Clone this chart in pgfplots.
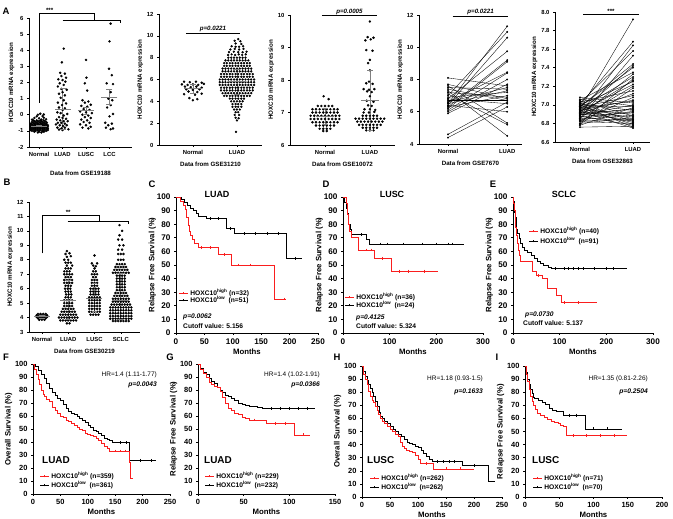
\documentclass[border=0pt]{standalone}
\usepackage{fontspec}
\setmainfont{Liberation Sans}
\usepackage{pgfplots}
\pgfplotsset{compat=1.18}
\definecolor{kmred}{RGB}{250,30,30}
\newcommand\fTick{\fontsize{5.9}{6.5}\selectfont\bfseries}
\newcommand\fLab{\fontsize{6.2}{7}\selectfont\bfseries}
\newcommand\kTick{\fontsize{7.5}{8}\selectfont\bfseries}
\newcommand\kTickC{\fontsize{8.2}{9}\selectfont\bfseries}
\newcommand\kLab{\fontsize{7.8}{8.5}\selectfont\bfseries}
\newcommand\kTxt{\fontsize{6.7}{7.5}\selectfont\bfseries}
\pgfplotsset{
 base/.style={scale only axis, clip=false, axis lines*=left,
   axis line style={line width=0.7pt}, tick align=outside, major tick length=2pt,
   tick style={line width=0.6pt,black}, /pgf/number format/assume math mode=true,
   scaled ticks=false},
 dotax/.style={base, ticklabel style={font=\fTick}, label style={font=\fLab},
   ylabel={HOXC10 mRNA expression}, ylabel style={yshift=-3bp}},
 km/.style={base, ymin=0, ymax=100, ytick={0,10,...,100}, ticklabel style={font=\kTick},
   label style={font=\kLab}, xlabel={Months}, ylabel style={yshift=-4bp}, xlabel style={yshift=2.5bp}},
 kmC/.style={km, ticklabel style={font=\kTickC}, ylabel style={yshift=-2bp}},
 dt/.style={only marks, mark=*, mark size=1.05pt, black, forget plot},
 kr/.style={kmred, const plot, line width=0.65pt, forget plot},
 kb/.style={black, const plot, line width=0.55pt, forget plot},
 cr/.style={kmred, only marks, mark=|, mark size=1.4pt, mark options={line width=0.4pt}, forget plot},
 cb/.style={black, only marks, mark=|, mark size=1.4pt, mark options={line width=0.4pt}, forget plot},
 pl/.style={black, line width=0.35pt, mark=*, mark size=0.75pt, forget plot},
}
\newcommand\msd[5]{%
 \addplot[forget plot, black!50, line width=0.7pt, mark=-, mark size=3pt] coordinates {(#1,#3)(#1,#4)};
 \addplot[forget plot, black!50, line width=0.9pt, only marks, mark=-, mark size=#5] coordinates {(#1,#2)};}
\newcommand\pr[2]{\addplot[pl] coordinates {(0,#1)(1,#2)};}
\newcommand\leg[4]{%
 \draw[#3, line width=0.6pt] (#1bp,#2bp) -- ++(9bp,0) node[anchor=west, black, inner sep=0, xshift=2bp, font=\kTxt]{#4};
 \draw[#3, line width=0.4pt] (#1bp,#2bp) ++(4.5bp,-1.4bp) -- ++(0,2.8bp);}
\newcommand\plet[3]{\node[font=\fontsize{9.5}{10}\selectfont\bfseries] at (#1bp,#2bp) {#3};}
\begin{document}
\begin{tikzpicture}
\useasboundingbox (0,0) rectangle (673bp,519bp);
% ---------------- A1
\begin{axis}[dotax, at={(29bp,372bp)}, width=103bp, height=129bp, xmin=-0.43, xmax=3.96, ymin=-2, ymax=6,
  ytick={-2,...,6}, xtick={0,1,2,3}, xticklabels={Normal,LUAD,LUSC,LCC}, xlabel={Data from GSE19188},
  xlabel style={yshift=-7bp}]
\addplot[dt] coordinates {(-0.05,-1.1)(0.1,-1.1)(-0.2,-1.05)(0,-1.05)(0.2,-1.05)
(-0.3,-1)(-0.15,-1)(0,-1)(0.15,-1)(0.3,-1)
(-0.37,-0.95)(-0.22,-0.95)(-0.07,-0.95)(0.07,-0.95)(0.22,-0.95)(0.37,-0.95)
(-0.3,-0.9)(-0.15,-0.9)(0,-0.9)(0.15,-0.9)(0.3,-0.9)
(-0.37,-0.85)(-0.22,-0.85)(-0.07,-0.85)(0.07,-0.85)(0.22,-0.85)(0.37,-0.85)
(-0.3,-0.8)(-0.15,-0.8)(0,-0.8)(0.15,-0.8)(0.3,-0.8)
(-0.37,-0.75)(-0.22,-0.75)(-0.07,-0.75)(0.07,-0.75)(0.22,-0.75)(0.37,-0.75)
(-0.3,-0.7)(-0.15,-0.7)(0,-0.7)(0.15,-0.7)(0.3,-0.7)
(-0.37,-0.65)(-0.22,-0.65)(-0.07,-0.65)(0.07,-0.65)(0.22,-0.65)(0.37,-0.65)
(-0.3,-0.6)(-0.15,-0.6)(0,-0.6)(0.15,-0.6)(0.3,-0.6)
(-0.35,-0.55)(-0.2,-0.55)(-0.05,-0.55)(0.1,-0.55)(0.25,-0.55)
(-0.25,-0.5)(-0.1,-0.5)(0.05,-0.5)(0.2,-0.5)(0.33,-0.5)
(-0.3,-0.45)(-0.15,-0.45)(0,-0.45)(0.15,-0.45)(0.3,-0.45)
(-0.2,-0.4)(-0.05,-0.4)(0.1,-0.4)(0.25,-0.4)
(-0.25,-0.35)(-0.1,-0.35)(0.05,-0.35)(0.2,-0.35)
(-0.3,-0.3)(0.1,-0.3)(0.3,-0.28)(-0.2,-0.2)(0,-0.22)(0.2,-0.18)
(-0.1,-0.1)(0.15,-0.08)(-0.05,0)(0.2,0.02)(0.05,0.06)};
\addplot[dt] coordinates {(1.05,4.1)(0.97,3.25)(0.9,2.6)(1.1,2.55)(0.95,2.4)(1.15,2.3)(0.82,2.2)(1.0,2.15)(1.12,2.05)(0.88,1.95)(1.05,1.85)(0.8,1.75)(0.95,1.6)(1.18,1.55)(1.0,1.4)(0.85,1.3)(1.1,1.2)(0.92,1.05)(1.05,0.9)(0.8,0.75)(1.15,0.7)(0.98,0.6)(0.85,0.45)(1.1,0.4)(1.0,0.3)(0.78,0.15)(0.92,0.1)(1.2,0.05)(1.05,-0.05)(0.85,-0.15)(1.0,-0.2)(1.15,-0.25)(0.75,-0.3)(0.9,-0.35)(1.05,-0.4)(1.22,-0.4)(0.8,-0.5)(0.95,-0.5)(1.1,-0.55)(0.72,-0.6)(0.88,-0.65)(1.02,-0.7)(1.18,-0.65)(0.78,-0.8)(0.95,-0.85)(1.1,-0.8)(1.25,-0.9)(0.85,-0.92)(1.0,-0.95)};
\addplot[dt] coordinates {(2.0,3.4)(2.02,2.3)(1.95,1.95)(2.05,1.5)(1.85,0.9)(2.1,0.82)(1.95,0.75)(2.2,0.62)(1.8,0.55)(2.05,0.5)(1.9,0.35)(2.15,0.3)(1.75,0.2)(2.0,0.15)(2.25,0.1)(1.85,0.0)(2.1,-0.05)(1.95,-0.15)(2.2,-0.2)(1.8,-0.3)(2.05,-0.35)(1.9,-0.45)(2.15,-0.5)(1.75,-0.6)(2.0,-0.65)(2.2,-0.75)(1.85,-0.8)(2.1,-0.85)};
\addplot[dt] coordinates {(3.05,5.65)(3.0,4.55)(2.98,2.85)(3.1,2.45)(2.88,1.95)(3.15,1.9)(3.05,1.4)(2.95,1.0)(3.12,0.9)(3.05,0.6)(2.9,0.45)(3.15,0.05)(3.0,-0.1)(2.82,-0.5)(3.1,-0.55)(2.95,-0.65)(2.85,-0.8)(3.15,-0.85)(3.05,-0.9)};
\msd{0}{-0.7}{-0.75}{-0.65}{8bp}
\msd{1}{0.35}{-0.92}{1.62}{8bp}
\msd{2}{0.25}{0.05}{0.45}{8bp}
\msd{3}{1.1}{0.65}{1.55}{8bp}
\draw[line width=0.7pt] (axis cs:0,0.75) -- (axis cs:0,6.29) -- (axis cs:2.35,6.29) -- (axis cs:2.35,5.88);
\draw[line width=0.7pt] (axis cs:1,5.88) -- (axis cs:3.45,5.88) -- (axis cs:3.45,5.72);
\node[font=\fLab, anchor=south, inner sep=0.5bp] at (axis cs:0.45,6.3) {***};
\end{axis}
% ---------------- A2
\begin{axis}[dotax, at={(159bp,374bp)}, width=103bp, height=131bp, xmin=-0.77, xmax=1.57, ymin=0, ymax=12,
  ytick={0,2,...,12}, xtick={0,1}, xticklabels={Normal,LUAD}, xlabel={Data from GSE31210}]
\addplot[dt] coordinates {(-0.2,5.8)(-0.07,5.75)(0.07,5.8)(0.2,5.7)(-0.25,5.55)(-0.12,5.5)(0.0,5.55)(0.12,5.5)(0.25,5.6)(-0.18,5.35)(-0.05,5.3)(0.08,5.35)(0.2,5.25)(-0.15,5.1)(0.0,5.05)(0.15,5.1)(-0.1,4.9)(0.1,4.85)(-0.2,4.65)(0.05,4.6)(0.2,4.7)(-0.08,4.3)(0.1,4.2)(0.0,4.1)};
\addplot[dt, mark size=0.95pt] coordinates {(1.03,9.7)(0.95,9.55)(1.08,9.5)(0.97,9.3)(1.1,9.25)
(0.88,9.05)(0.97,9.0)(1.05,9.0)(1.14,9.05)(0.85,8.75)(0.95,8.8)(1.05,8.75)(1.15,8.8)
(0.82,8.5)(0.93,8.55)(1.03,8.5)(1.13,8.5)(1.22,8.55)(0.8,8.25)(0.88,8.3)(0.96,8.25)(1.04,8.3)(1.12,8.25)(1.2,8.3)
(0.805,8)(0.87,8)(0.935,8)(1,8)(1.065,8)(1.13,8)(1.195,8)
(0.74,7.75)(0.805,7.75)(0.87,7.75)(0.935,7.75)(1,7.75)(1.065,7.75)(1.13,7.75)(1.195,7.75)(1.26,7.75)
(0.71,7.5)(0.77,7.5)(0.84,7.5)(0.9,7.5)(0.97,7.5)(1.03,7.5)(1.1,7.5)(1.16,7.5)(1.23,7.5)(1.29,7.5)
(0.71,7.25)(0.77,7.25)(0.84,7.25)(0.9,7.25)(0.97,7.25)(1.03,7.25)(1.1,7.25)(1.16,7.25)(1.23,7.25)(1.29,7.25)
(0.675,7)(0.74,7)(0.805,7)(0.87,7)(0.935,7)(1,7)(1.065,7)(1.13,7)(1.195,7)(1.26,7)(1.325,7)
(0.675,6.75)(0.74,6.75)(0.805,6.75)(0.87,6.75)(0.935,6.75)(1,6.75)(1.065,6.75)(1.13,6.75)(1.195,6.75)(1.26,6.75)(1.325,6.75)
(0.64,6.5)(0.71,6.5)(0.77,6.5)(0.84,6.5)(0.9,6.5)(0.97,6.5)(1.03,6.5)(1.1,6.5)(1.16,6.5)(1.23,6.5)(1.29,6.5)(1.36,6.5)
(0.64,6.25)(0.71,6.25)(0.77,6.25)(0.84,6.25)(0.9,6.25)(0.97,6.25)(1.03,6.25)(1.1,6.25)(1.16,6.25)(1.23,6.25)(1.29,6.25)(1.36,6.25)
(0.61,6)(0.675,6)(0.74,6)(0.805,6)(0.87,6)(0.935,6)(1,6)(1.065,6)(1.13,6)(1.195,6)(1.26,6)(1.325,6)(1.39,6)
(0.61,5.75)(0.675,5.75)(0.74,5.75)(0.805,5.75)(0.87,5.75)(0.935,5.75)(1,5.75)(1.065,5.75)(1.13,5.75)(1.195,5.75)(1.26,5.75)(1.325,5.75)(1.39,5.75)
(0.61,5.5)(0.675,5.5)(0.74,5.5)(0.805,5.5)(0.87,5.5)(0.935,5.5)(1,5.5)(1.065,5.5)(1.13,5.5)(1.195,5.5)(1.26,5.5)(1.325,5.5)(1.39,5.5)
(0.64,5.25)(0.71,5.25)(0.77,5.25)(0.84,5.25)(0.9,5.25)(0.97,5.25)(1.03,5.25)(1.1,5.25)(1.16,5.25)(1.23,5.25)(1.29,5.25)(1.36,5.25)
(0.64,5)(0.71,5)(0.77,5)(0.84,5)(0.9,5)(0.97,5)(1.03,5)(1.1,5)(1.16,5)(1.23,5)(1.29,5)(1.36,5)
(0.675,4.75)(0.74,4.75)(0.805,4.75)(0.87,4.75)(0.935,4.75)(1,4.75)(1.065,4.75)(1.13,4.75)(1.195,4.75)(1.26,4.75)(1.325,4.75)
(0.71,4.5)(0.77,4.5)(0.84,4.5)(0.9,4.5)(0.97,4.5)(1.03,4.5)(1.1,4.5)(1.16,4.5)(1.23,4.5)(1.29,4.5)
(0.84,4.25)(0.9,4.25)(0.97,4.25)(1.03,4.25)(1.1,4.25)(1.16,4.25)
(0.87,4)(0.935,4)(1,4)(1.065,4)(1.13,4)(0.9,3.75)(0.97,3.75)(1.03,3.75)(1.1,3.75)
(0.9,3.5)(0.97,3.5)(1.03,3.5)(1.1,3.5)(0.935,3.25)(1,3.25)(1.065,3.25)
(0.97,3)(1.03,3)(0.95,2.75)(1.05,2.75)(0.97,2.5)(1.04,2.45)(1.0,2.25)(0.98,1.2)};
\msd{0}{5.2}{4.75}{5.6}{9bp}
\msd{1}{5.8}{4.6}{6.95}{9bp}
\draw[line width=0.7pt] (axis cs:-0.16,10.25) -- (axis cs:1.07,10.25) node[midway, above, inner sep=1bp, font=\fLab\itshape] {p=0.0221};
\end{axis}
% ---------------- A3
\begin{axis}[dotax, at={(290bp,374bp)}, width=105bp, height=130bp, xmin=-0.78, xmax=1.56, ymin=6, ymax=10,
  ytick={6,...,10}, xtick={0,1}, xticklabels={Normal,LUAD}, xlabel={Data from GSE10072}]
\addplot[dt] coordinates {(-0.03,7.5)(0.08,7.41)
(-0.16,7.2)(-0.08,7.2)(0,7.2)(0.08,7.2)(0.16,7.2)
(-0.28,7.1)(-0.2,7.1)(-0.12,7.1)(-0.04,7.1)(0.04,7.1)(0.12,7.1)(0.2,7.1)(0.28,7.1)
(-0.28,7.0)(-0.2,7.0)(-0.12,7.0)(-0.04,7.0)(0.04,7.0)(0.12,7.0)(0.2,7.0)(0.28,7.0)
(-0.32,6.9)(-0.24,6.9)(-0.16,6.9)(-0.08,6.9)(0,6.9)(0.08,6.9)(0.16,6.9)(0.24,6.9)(0.32,6.9)
(-0.32,6.8)(-0.24,6.8)(-0.16,6.8)(-0.08,6.8)(0,6.8)(0.08,6.8)(0.16,6.8)(0.24,6.8)(0.32,6.8)
(-0.28,6.7)(-0.2,6.7)(-0.12,6.7)(-0.04,6.7)(0.04,6.7)(0.12,6.7)(0.2,6.7)(0.28,6.7)
(-0.2,6.6)(-0.12,6.6)(-0.04,6.6)(0.04,6.6)(0.12,6.6)(0.2,6.6)
(-0.12,6.5)(-0.04,6.5)(0.04,6.5)(0.12,6.5)(-0.04,6.43)(0.04,6.43)};
\addplot[dt] coordinates {(1.0,9.8)(0.95,9.32)(1.08,9.3)(0.9,9.22)(1.02,9.25)(0.92,8.92)(1.06,8.9)(1.0,8.62)(0.96,8.52)(1.0,8.3)(0.98,7.95)(0.92,7.9)(1.06,7.88)(0.86,7.72)(0.98,7.7)(1.1,7.72)(0.94,7.65)(1.04,7.63)(1.0,7.5)(0.93,7.36)(1.08,7.33)(0.96,7.22)(1.04,7.2)(0.88,7.1)(1.0,7.1)(1.12,7.08)(0.86,7.0)(0.98,7.0)(1.1,7.02)
(0.84,6.9)(0.92,6.9)(1.0,6.9)(1.08,6.9)(1.16,6.9)
(0.68,6.81)(0.76,6.81)(0.84,6.81)(0.92,6.81)(1.0,6.81)(1.08,6.81)(1.16,6.81)(1.24,6.81)(1.32,6.81)
(0.72,6.72)(0.8,6.72)(0.88,6.72)(0.96,6.72)(1.04,6.72)(1.12,6.72)(1.2,6.72)(1.28,6.72)
(0.76,6.62)(0.84,6.62)(0.92,6.62)(1,6.62)(1.08,6.62)(1.16,6.62)(1.24,6.62)
(0.84,6.53)(0.92,6.53)(1.0,6.53)(1.08,6.53)(1.16,6.53)(0.92,6.45)(1.0,6.45)(1.08,6.45)};
\msd{0}{6.88}{6.65}{7.12}{9bp}
\msd{1}{7.36}{6.45}{8.3}{9bp}
\draw[line width=0.7pt] (axis cs:-0.07,9.98) -- (axis cs:1.16,9.98) node[midway, above, inner sep=1bp, font=\fLab\itshape] {p=0.0005};
\end{axis}
% ---------------- A4
\begin{axis}[dotax, at={(419bp,375bp)}, width=103bp, height=129bp, xmin=-0.49, xmax=1.25, ymin=4, ymax=12,
  ytick={4,6,...,12}, xtick={0,1}, xticklabels={Normal,LUAD}, xlabel={Data from GSE7670}]
\pr{8.1}{7.6}\pr{7.7}{6.8}\pr{7.6}{5.3}\pr{7.5}{7.4}\pr{7.4}{6.7}\pr{7.3}{4.5}\pr{7.2}{6.9}
\pr{7.1}{5.2}\pr{7.0}{10.95}\pr{6.9}{7.2}\pr{6.8}{6.5}\pr{6.8}{9.75}\pr{6.7}{6.7}\pr{6.6}{8.45}
\pr{6.5}{11.3}\pr{6.5}{7.3}\pr{6.4}{10.6}\pr{6.4}{6.0}\pr{6.3}{9.2}\pr{6.3}{7.0}\pr{6.2}{9.1}
\pr{6.1}{8.4}\pr{5.9}{7.7}\pr{4.6}{6.6}\pr{4.4}{6.3}\pr{6.0}{8.0}\pr{6.6}{7.5}
\draw[line width=0.7pt] (axis cs:0.08,11.9) -- (axis cs:1.02,11.9) node[midway, above, inner sep=1bp, font=\fLab\itshape] {p=0.0221};
\end{axis}
% ---------------- A5
\begin{axis}[dotax, at={(555bp,377bp)}, width=95bp, height=130bp, xmin=-0.47, xmax=1.32, ymin=6.6, ymax=8.0,
  ytick={6.6,6.8,...,8.0}, yticklabel style={/pgf/number format/.cd, fixed, fixed zerofill, precision=1},
  xtick={0,1}, xticklabels={Normal,LUAD}, xlabel={Data from GSE32863}]
\pr{6.95}{7.92}\pr{7.0}{7.68}\pr{6.9}{7.64}\pr{7.02}{7.58}\pr{6.85}{7.53}\pr{6.98}{7.44}\pr{6.92}{7.42}
\pr{7.05}{7.35}\pr{6.88}{7.33}\pr{6.96}{7.3}\pr{6.8}{7.28}\pr{7.0}{7.25}\pr{6.93}{7.22}\pr{6.86}{7.2}
\pr{7.03}{7.15}\pr{6.9}{7.12}\pr{6.97}{7.1}\pr{6.83}{7.08}\pr{6.94}{7.05}\pr{7.08}{7.02}\pr{6.89}{7.0}
\pr{6.99}{6.98}\pr{6.78}{6.97}\pr{6.91}{6.95}\pr{7.01}{6.94}\pr{6.87}{6.92}\pr{6.95}{6.9}\pr{6.84}{6.89}
\pr{7.04}{6.88}\pr{6.92}{6.87}\pr{6.8}{6.86}\pr{6.98}{6.85}\pr{6.9}{6.84}\pr{6.86}{6.83}\pr{7.02}{6.82}
\pr{6.94}{6.81}\pr{6.82}{6.8}\pr{6.97}{6.79}\pr{6.88}{6.78}\pr{6.76}{6.77}\pr{7.0}{6.76}\pr{6.93}{6.75}
\pr{6.85}{6.93}\pr{6.96}{7.04}\pr{6.89}{6.96}\pr{6.79}{7.18}\pr{7.06}{6.99}\pr{6.91}{7.26}\pr{6.83}{6.84}\pr{6.98}{7.4}
\draw[line width=0.7pt] (axis cs:0.06,7.98) -- (axis cs:1.11,7.98) node[midway, above, inner sep=0.5bp, font=\fLab] {***};
\end{axis}
% ---------------- B
\begin{axis}[dotax, at={(29bp,187bp)}, width=111bp, height=130bp, xmin=-0.49, xmax=3.73, ymin=3, ymax=12,
  ytick={3,...,12}, xtick={0,1,2,3}, xticklabels={Normal,LUAD,LUSC,SCLC}, xlabel={Data from GSE30219}]
\addplot[dt] coordinates {(-0.15,4.25)(-0.05,4.25)(0.05,4.25)(0.15,4.25)(-0.2,4.15)(-0.1,4.15)(0,4.15)(0.1,4.15)(0.2,4.15)
(-0.2,4.05)(-0.1,4.05)(0,4.05)(0.1,4.05)(0.2,4.05)(-0.15,3.95)(-0.05,3.95)(0.05,3.95)(0.15,3.95)(-0.1,3.85)(0,3.85)(0.1,3.85)};
\addplot[dt] coordinates {(0.95,8.6)(0.9,8.4)(1.05,8.45)(0.95,8.2)(1.1,8.25)(0.85,8.0)(1.0,8.0)(0.9,7.8)(1.0,7.8)(1.1,7.8)(0.95,7.6)(1.15,7.6)
(0.9,7.4)(1.0,7.4)(1.1,7.4)(0.85,7.2)(0.95,7.2)(1.05,7.2)(0.85,7)(0.95,7)(1.05,7)(1.15,7)(0.9,6.8)(1,6.8)(1.1,6.8)
(0.85,6.6)(0.95,6.6)(1.05,6.6)(1.15,6.6)(0.85,6.4)(0.95,6.4)(1.05,6.4)(1.15,6.4)(0.9,6.2)(1,6.2)(1.1,6.2)
(0.88,6)(0.98,6)(1.08,6)(0.9,5.8)(1,5.8)(1.1,5.8)(0.92,5.6)(1.02,5.6)(1.12,5.6)(0.9,5.4)(1,5.4)(1.1,5.4)
(0.85,5.2)(0.95,5.2)(1.05,5.2)(1.15,5.2)(0.85,5)(0.95,5)(1.05,5)(1.15,5)(0.85,4.8)(0.95,4.8)(1.05,4.8)(1.15,4.8)
(0.8,4.6)(0.9,4.6)(1,4.6)(1.1,4.6)(1.2,4.6)(0.75,4.4)(0.85,4.4)(0.95,4.4)(1.05,4.4)(1.15,4.4)(1.25,4.4)
(0.7,4.2)(0.8,4.2)(0.9,4.2)(1,4.2)(1.1,4.2)(1.2,4.2)(1.3,4.2)
(0.65,4)(0.75,4)(0.85,4)(0.95,4)(1.05,4)(1.15,4)(1.25,4)(1.35,4)
(0.7,3.8)(0.8,3.8)(0.9,3.8)(1,3.8)(1.1,3.8)(1.2,3.8)(1.3,3.8)(0.95,3.6)(1.05,3.6)};
\addplot[dt] coordinates {(2,8.3)(1.9,7.75)(2.1,7.75)(1.95,7.6)(2.05,7.55)(2.0,7.4)(1.95,7.2)(2.05,7.2)(1.9,7)(2,7)(2.1,7)(1.95,6.8)(2.05,6.8)
(1.9,6.6)(2,6.6)(2.1,6.6)(1.9,6.4)(2,6.4)(2.1,6.4)(1.9,6.2)(2,6.2)(2.1,6.2)
(1.85,6)(1.95,6)(2.05,6)(2.15,6)(1.85,5.8)(1.95,5.8)(2.05,5.8)(2.15,5.8)(1.85,5.6)(1.95,5.6)(2.05,5.6)(2.15,5.6)
(1.8,5.4)(1.9,5.4)(2,5.4)(2.1,5.4)(2.2,5.4)(1.8,5.2)(1.9,5.2)(2,5.2)(2.1,5.2)(2.2,5.2)
(1.8,5)(1.9,5)(2,5)(2.1,5)(2.2,5)(1.8,4.8)(1.9,4.8)(2,4.8)(2.1,4.8)(2.2,4.8)
(1.8,4.6)(1.9,4.6)(2,4.6)(2.1,4.6)(2.2,4.6)(1.8,4.4)(1.9,4.4)(2,4.4)(2.1,4.4)(2.2,4.4)
(1.85,4.2)(1.95,4.2)(2.05,4.2)(2.15,4.2)};
\addplot[dt] coordinates {(2.95,10.4)(3.05,10.0)(2.95,9.7)(2.9,9.4)(3.05,9.4)(2.95,9.0)(3.1,9.0)(2.9,8.7)(3.05,8.7)
(2.9,8.4)(3,8.4)(3.1,8.4)(2.9,8)(3,8)(3.1,8)(2.85,7.7)(2.95,7.7)(3.05,7.7)(3.15,7.7)
(2.8,7.5)(2.9,7.5)(3,7.5)(3.1,7.5)(3.2,7.5)(2.75,7.3)(2.85,7.3)(2.95,7.3)(3.05,7.3)(3.15,7.3)(3.25,7.3)
(2.7,7.1)(2.8,7.1)(2.9,7.1)(3,7.1)(3.1,7.1)(3.2,7.1)(3.3,7.1)
(2.85,6.9)(2.95,6.9)(3.05,6.9)(3.15,6.9)(2.85,6.7)(2.95,6.7)(3.05,6.7)(3.15,6.7)
(2.85,6.5)(2.95,6.5)(3.05,6.5)(3.15,6.5)(2.85,6.3)(2.95,6.3)(3.05,6.3)(3.15,6.3)
(2.85,6.1)(2.95,6.1)(3.05,6.1)(3.15,6.1)(2.85,5.9)(2.95,5.9)(3.05,5.9)(3.15,5.9)
(2.8,5.7)(2.9,5.7)(3,5.7)(3.1,5.7)(3.2,5.7)(2.75,5.5)(2.85,5.5)(2.95,5.5)(3.05,5.5)(3.15,5.5)(3.25,5.5)
(2.7,5.3)(2.8,5.3)(2.9,5.3)(3,5.3)(3.1,5.3)(3.2,5.3)(3.3,5.3)(2.7,5.1)(2.8,5.1)(2.9,5.1)(3,5.1)(3.1,5.1)(3.2,5.1)(3.3,5.1)
(2.65,4.9)(2.75,4.9)(2.85,4.9)(2.95,4.9)(3.05,4.9)(3.15,4.9)(3.25,4.9)(3.35,4.9)
(2.6,4.7)(2.7,4.7)(2.8,4.7)(2.9,4.7)(3,4.7)(3.1,4.7)(3.2,4.7)(3.3,4.7)(3.4,4.7)
(2.6,4.5)(2.7,4.5)(2.8,4.5)(2.9,4.5)(3,4.5)(3.1,4.5)(3.2,4.5)(3.3,4.5)(3.4,4.5)
(2.6,4.3)(2.7,4.3)(2.8,4.3)(2.9,4.3)(3,4.3)(3.1,4.3)(3.2,4.3)(3.3,4.3)(3.4,4.3)
(2.6,4.1)(2.7,4.1)(2.8,4.1)(2.9,4.1)(3,4.1)(3.1,4.1)(3.2,4.1)(3.3,4.1)(3.4,4.1)
(2.6,3.92)(2.7,3.92)(2.8,3.92)(2.9,3.92)(3,3.92)(3.1,3.92)(3.2,3.92)(3.3,3.92)(3.4,3.92)
(2.7,3.76)(2.8,3.76)(2.9,3.76)(3,3.76)(3.1,3.76)(3.2,3.76)(3.3,3.76)};
\msd{0}{4.05}{3.95}{4.15}{8bp}
\msd{1}{5.15}{3.9}{6.55}{8bp}
\msd{2}{5.35}{4.45}{6.35}{8bp}
\msd{3}{5.2}{3.9}{7.05}{8bp}
\draw[line width=0.7pt] (axis cs:0,8.45) -- (axis cs:0,11.1) -- (axis cs:2.18,11.1) -- (axis cs:2.18,10.64);
\draw[line width=0.7pt] (axis cs:0.98,10.64) -- (axis cs:3.28,10.64) -- (axis cs:3.28,10.5);
\node[font=\fLab, anchor=south, inner sep=0.5bp] at (axis cs:1,11.1) {**};
\end{axis}
% ---------------- C
\begin{axis}[kmC, at={(176bp,186bp)}, width=142bp, height=136bp, xmin=0, xmax=250, xtick={0,50,...,250},
  ylabel={Relapse Free Survival (\%)}]
\addplot[kb] coordinates {(0,100)(10,98)(15,96)(20,94)(25,92)(30,90)(36,88)(40,86)(53,84)(89,77)(102,73)(194,55)(221,55)};
\addplot[kr] coordinates {(0,100)(8,97)(13,94)(16,91)(19,85)(22,79)(23,75)(26,72)(29,69)(32,66)(39,63)(74,57.5)(98,50)(173,25)(194,25)};
\addplot[cb] coordinates {(60,84)(75,84)(95,77)(120,73)(140,73)(160,73)(180,73)(210,55)};
\addplot[cr] coordinates {(45,63)(60,63)(85,57.5)(110,50)(130,50)(190,25)};
\end{axis}
% ---------------- D
\begin{axis}[kmC, at={(343bp,186bp)}, width=140bp, height=136bp, xmin=0, xmax=300, xtick={0,100,200,300},
  ylabel={Relapse Free Survival (\%)}]
\addplot[kb] coordinates {(0,100)(3,96)(7,92)(10,88)(12,80)(15,76)(17,72.5)(50,69)(57,65.5)(260,65.5)};
\addplot[kr] coordinates {(0,100)(7,95)(10,87)(12,80)(14,75)(17,70)(32,61)(68,55)(104,45.5)(204,45.5)};
\addplot[cb] coordinates {(40,72.5)(80,65.5)(95,65.5)(130,65.5)(170,65.5)(200,65.5)(225,65.5)(235,65.5)};
\addplot[cr] coordinates {(50,61)(60,61)(85,55)(120,45.5)(140,45.5)(175,45.5)};
\end{axis}
% ---------------- E
\begin{axis}[kmC, at={(513bp,186bp)}, width=140bp, height=136bp, xmin=0, xmax=300, xtick={0,100,200,300},
  ylabel={Relapse Free Survival (\%)}]
\addplot[kb] coordinates {(0,100)(1,97)(2,93)(3,89)(4,85)(6,80)(8,76)(10,73)(13,70)(16,66)(20,63)(25,61)(30,59)(40,57)(45,55)(52,53)(58,51)(65,50)(75,48.5)(82,47.5)(245,47.5)};
\addplot[kr] coordinates {(0,100)(1,95)(2,90)(4,82)(5,78)(7,72)(9,66)(11,61)(13,57)(16,52.5)(41,45)(50,42.5)(62,40)(73,33)(92,28)(103,22.5)(180,22.5)};
\addplot[cb] coordinates {(90,47.5)(110,47.5)(118,47.5)(130,47.5)(140,47.5)(150,47.5)(175,47.5)(200,47.5)(215,47.5)};
\addplot[cr] coordinates {(55,42.5)(110,22.5)(140,22.5)};
\end{axis}
% ---------------- F
\begin{axis}[km, at={(33bp,25bp)}, width=137bp, height=130bp, xmin=0, xmax=250, xtick={0,50,...,250},
  ylabel={Overall Survival (\%)}]
\addplot[kb] coordinates {(0,100)(5,98)(10,95)(15,92)(20,89)(25,85)(30,81)(35,78)(40,76)(45,74)(50,72)(55,69)(60,66)(65,64)(70,62)(75,61)(80,60)(85,58)(90,57)(95,55)(100,53)(105,51)(110,49)(115,48)(120,47)(125,45)(130,43)(135,42)(140,41)(145,40)(150,39.5)(176,26)(224,26)};
\addplot[kr] coordinates {(0,100)(3,96)(6,92)(9,88)(12,84)(15,80)(18,77)(21,75)(25,73)(30,71)(35,67)(40,64)(45,62)(50,60)(55,59)(60,57)(65,56)(70,54)(75,53)(80,51)(85,50)(90,49)(95,47)(100,46)(105,45)(110,44)(115,43)(120,41.5)(125,39)(130,37)(135,35)(140,33)(175,24)(178,12)(182,12)};
\addplot[cb] coordinates {(160,39.5)(170,39.5)(195,26)(215,26)};
\addplot[cr] coordinates {(150,33)(160,33)(168,33)};
\end{axis}
% ---------------- G
\begin{axis}[km, at={(198bp,25bp)}, width=137bp, height=130bp, xmin=0, xmax=150, xtick={0,50,100,150},
  ylabel={Relapse Free Survival (\%)}]
\addplot[kb] coordinates {(0,100)(3,97)(6,94)(9,92)(12,89)(15,87)(18,85)(21,82)(24,80)(27,78)(30,76)(33,75)(36,74)(40,72)(44,70)(48,69)(52,68)(56,67.5)(65,67)(70,66)(128,66)};
\addplot[kr] coordinates {(0,100)(3,96)(6,93)(9,90)(12,86)(15,84)(18,83)(21,82)(24,79)(27,74)(30,70)(33,66)(36,64)(40,62)(44,61)(48,59)(52,58)(56,57)(75,54.5)(106,45.5)(123,45.5)};
\addplot[cb] coordinates {(80,66)(90,66)(100,66)(110,66)(120,66)};
\addplot[cr] coordinates {(62,57)(85,54.5)(95,54.5)(115,45.5)};
\end{axis}
% ---------------- H
\begin{axis}[km, at={(362bp,22bp)}, width=140bp, height=131bp, xmin=0, xmax=250, xtick={0,50,...,250},
  ylabel={Overall Survival (\%)}]
\addplot[kb] coordinates {(0,100)(3,96)(6,92)(9,89)(12,86)(15,83)(18,80)(21,77)(24,73)(27,69)(30,65)(33,62)(36,60)(40,58)(45,56)(50,54)(55,52)(60,50)(65,48)(70,46)(75,44)(80,42)(85,41)(90,40)(95,39)(100,38)(105,36)(110,33)(115,31)(120,29)(125,27)(179,24)(226,12)(238,12)};
\addplot[kr] coordinates {(0,100)(3,94)(6,90)(9,86)(12,81)(15,77)(18,74)(21,72)(24,69)(27,66)(30,63)(33,60)(36,58)(40,56)(45,54)(50,52)(55,50)(60,48)(65,46)(68,42)(72,39)(76,37)(80,36)(85,35)(90,34)(95,32)(100,29)(104,26)(108,25.5)(128,21.5)(200,21.5)};
\addplot[cb] coordinates {(135,27)(145,27)(155,27)(165,27)(200,24)};
\addplot[cr] coordinates {(115,25.5)(150,21.5)(175,21.5)};
\end{axis}
% ---------------- I
\begin{axis}[km, at={(525bp,22bp)}, width=137bp, height=131bp, xmin=0, xmax=200, xtick={0,50,...,200},
  ylabel={Relapse Free Survival (\%)}]
\addplot[kb] coordinates {(0,100)(2,95)(4,90)(6,86)(8,82)(10,79)(12,76)(14,75)(20,74)(25,72)(30,71)(35,68)(40,66)(45,65.5)(56,62.5)(88,52)(141,52)};
\addplot[kr] coordinates {(0,100)(2,94)(4,88)(6,82)(8,77)(10,73)(12,70)(15,67)(18,64)(22,62)(28,61)(33,59)(38,58)(43,57)(48,56)(52,55)(56,54)(61,47)(149,47)};
\addplot[cb] coordinates {(65,62.5)(75,62.5)(100,52)(120,52)};
\addplot[cr] coordinates {(70,47)(90,47)(110,47)(130,47)};
\end{axis}
% ---------------- annotations
\plet{6}{508}{A}\plet{7}{337}{B}\plet{152}{335}{C}\plet{326}{335}{D}\plet{493}{335}{E}
\plet{6}{162}{F}\plet{170}{162}{G}\plet{337}{162}{H}\plet{497}{162}{I}
\node[font=\fontsize{9}{10}\selectfont\bfseries] at (217bp,325bp) {LUAD};
\node[font=\fontsize{9}{10}\selectfont\bfseries] at (392bp,325bp) {LUSC};
\node[font=\fontsize{9}{10}\selectfont\bfseries] at (564bp,325bp) {SCLC};
\leg{179}{226}{kmred}{HOXC10\textsuperscript{high} (n=32)}
\leg{179}{219}{black}{HOXC10\textsuperscript{low}\hspace{1.5bp} (n=51)}
\node[anchor=west, inner sep=0, font=\kTxt\itshape] at (183bp,202bp) {p=0.0062};
\node[anchor=west, inner sep=0, font=\kTxt] at (183bp,193bp) {Cutoff value: 5.156};
\leg{345}{222}{kmred}{HOXC10\textsuperscript{high} (n=36)}
\leg{345}{214}{black}{HOXC10\textsuperscript{low}\hspace{1.5bp} (n=24)}
\node[anchor=west, inner sep=0, font=\kTxt\itshape] at (356bp,201bp) {p=0.4125};
\node[anchor=west, inner sep=0, font=\kTxt] at (356bp,193bp) {Cutoff value: 5.324};
\leg{529}{288}{kmred}{HOXC10\textsuperscript{high} (n=40)}
\leg{529}{278}{black}{HOXC10\textsuperscript{low}\hspace{1.5bp} (n=91)}
\node[anchor=west, inner sep=0, font=\kTxt\itshape] at (525bp,204bp) {p=0.0730};
\node[anchor=west, inner sep=0, font=\kTxt] at (523bp,196bp) {Cutoff value: 5.137};
% F
\node[anchor=east, inner sep=0, font=\fontsize{6.5}{7}\selectfont] at (157bp,144bp) {HR=1.4 (1.11-1.77)};
\node[anchor=east, inner sep=0, font=\kTxt\itshape] at (157bp,134bp) {p=0.0043};
\node[anchor=west, inner sep=0, font=\fontsize{10}{11}\selectfont\bfseries] at (42bp,59bp) {LUAD};
\leg{40}{43}{kmred}{HOXC10\textsuperscript{high} (n=359)}
\leg{40}{34}{black}{HOXC10\textsuperscript{low}\hspace{1.5bp} (n=361)}
% G
\node[anchor=east, inner sep=0, font=\fontsize{6.5}{7}\selectfont] at (320bp,144bp) {HR=1.4 (1.02-1.91)};
\node[anchor=east, inner sep=0, font=\kTxt\itshape] at (320bp,134bp) {p=0.0366};
\node[anchor=west, inner sep=0, font=\fontsize{10}{11}\selectfont\bfseries] at (204bp,59bp) {LUAD};
\leg{205}{43}{kmred}{HOXC10\textsuperscript{high} (n=229)}
\leg{205}{34}{black}{HOXC10\textsuperscript{low}\hspace{1.5bp} (n=232)}
% H
\node[anchor=east, inner sep=0, font=\fontsize{6.5}{7}\selectfont] at (483bp,140bp) {HR=1.18 (0.93-1.5)};
\node[anchor=east, inner sep=0, font=\kTxt\itshape] at (483bp,127bp) {p=0.1633};
\node[anchor=west, inner sep=0, font=\fontsize{10}{11}\selectfont\bfseries] at (367bp,59bp) {LUSC};
\leg{370}{41}{kmred}{HOXC10\textsuperscript{high} (n=262)}
\leg{370}{32}{black}{HOXC10\textsuperscript{low}\hspace{1.5bp} (n=262)}
% I
\node[anchor=east, inner sep=0, font=\fontsize{6.5}{7}\selectfont] at (648bp,140bp) {HR=1.35 (0.81-2.26)};
\node[anchor=east, inner sep=0, font=\kTxt\itshape] at (648bp,127bp) {p=0.2504};
\node[anchor=west, inner sep=0, font=\fontsize{10}{11}\selectfont\bfseries] at (532bp,59bp) {LUSC};
\leg{533}{41}{kmred}{HOXC10\textsuperscript{high} (n=71)}
\leg{533}{32}{black}{HOXC10\textsuperscript{low}\hspace{1.5bp} (n=70)}
\end{tikzpicture}
\end{document}
